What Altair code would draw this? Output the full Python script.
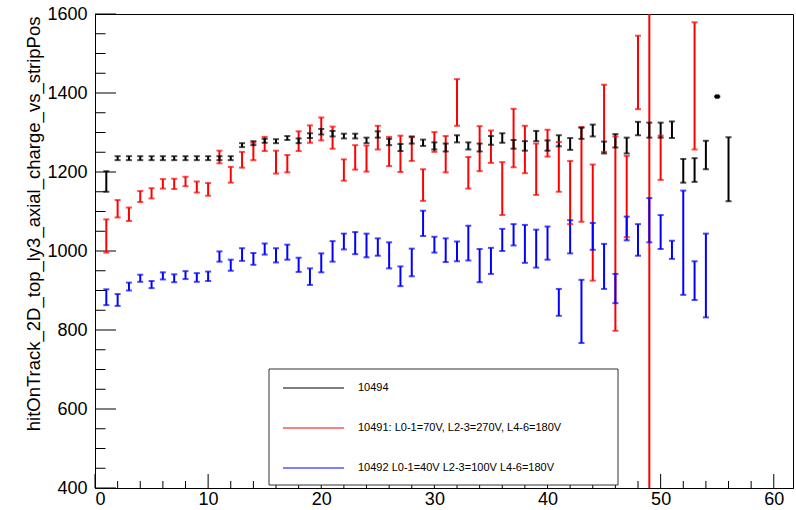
import altair as alt
import pandas as pd

# ---- run 10494 (black) ----
black_x = list(range(1, 57))
black_y = [1176, 1235, 1235, 1235, 1235, 1235, 1235, 1235, 1235, 1235,
           1235, 1235, 1268, 1273, 1279, 1278, 1286, 1279, 1292, 1302,
           1297, 1291, 1291, 1280, 1295, 1276, 1262, 1281, 1274, 1266,
           1262, 1284, 1266, 1262, 1280, 1286, 1270, 1266, 1291, 1267,
           1279, 1271, 1298, 1305, 1262, 1279, 1267, 1310, 1306, 1306,
           1307, 1203, 1205, 1243, 1391, 1207]
black_err = [26, 5, 5, 5, 5, 5, 5, 5, 5, 5,
             5, 5, 5, 5, 5, 5, 5, 6, 6, 7,
             7, 6, 6, 7, 8, 8, 9, 9, 8, 9,
             10, 9, 9, 10, 11, 12, 11, 12, 13, 13,
             14, 15, 14, 15, 15, 17, 20, 17, 19, 19,
             21, 30, 30, 36, 0, 81]

# ---- run 10491 (red) ----
red_x = list(range(1, 51)) + [53]
red_y = [1038, 1107, 1093, 1138, 1146, 1170, 1170, 1176, 1162, 1156,
         1238, 1193, 1231, 1252, 1271, 1225, 1221, 1278, 1296, 1309,
         1287, 1205, 1237, 1234, 1287, 1252, 1246, 1258, 1167, 1276,
         1245, 1376, 1198, 1259, 1264, 1158, 1286, 1257, 1207, 1273,
         1213, 1148, 1194, 1072, 1336, 1044, 1138, 1452, 1000, 1236,
         1418]
red_err = [42, 22, 17, 14, 13, 12, 13, 12, 14, 16,
           16, 20, 20, 22, 18, 29, 22, 25, 22, 29,
           28, 27, 31, 33, 30, 37, 46, 30, 40, 25,
           46, 59, 40, 57, 41, 67, 74, 60, 65, 34,
           63, 80, 120, 147, 85, 246, 103, 93, 700, 56,
           161]

# ---- run 10492 (blue) ----
blue_x = list(range(1, 55))
blue_y = [883, 876, 910, 931, 915, 937, 931, 939, 933, 936,
          986, 964, 991, 980, 1005, 989, 997, 965, 935, 970,
          999, 1024, 1020, 1014, 1010, 989, 936, 971, 1070, 1016,
          1002, 999, 1020, 963, 975, 1028, 1041, 1018, 1006, 1020,
          870, 1036, 847, 1037, 961, 905, 1057, 1028, 1078, 1048,
          1003, 1021, 925, 938]
blue_err = [20, 15, 10, 9, 9, 9, 10, 10, 11, 12,
            13, 14, 16, 15, 14, 18, 19, 18, 21, 24,
            26, 20, 28, 30, 22, 33, 25, 35, 32, 20,
            30, 25, 44, 42, 33, 28, 27, 48, 48, 42,
            34, 42, 80, 34, 57, 37, 30, 40, 56, 43,
            23, 132, 49, 106]

run_names = ["10494",
             "10491: L0-1=70V, L2-3=270V, L4-6=180V",
             "10492 L0-1=40V L2-3=100V L4-6=180V"]
run_colors = ["#000000", "#ff0000", "#0000ff"]

# axis tick positions
y_major = [400, 600, 800, 1000, 1200, 1400, 1600]
y_minor = [v for v in range(400, 1601, 50) if v not in y_major]
x_major = [0, 10, 20, 30, 40, 50, 60]
x_minor = [v for v in range(0, 62, 2) if v not in x_major]

FONT = "Liberation Sans"
W, H = 698, 474

rows = []
for name, xs_, ys_, es_ in [(run_names[1], red_x, red_y, red_err),
                            (run_names[0], black_x, black_y, black_err),
                            (run_names[2], blue_x, blue_y, blue_err)]:
    for x, y, e in zip(xs_, ys_, es_):
        rows.append({"run": name, "strip": x, "val": y, "err": e,
                     "lo": y - e, "hi": y + e})
df = pd.DataFrame(rows)

xscale = alt.Scale(domain=[0, 61.7], nice=False, zero=False)
yscale = alt.Scale(domain=[400, 1600], nice=False, zero=False)
xaxis = alt.Axis(values=x_major, title=None, format="d", labelPadding=2)
yaxis = alt.Axis(values=y_major, format="d", labelPadding=8,
                 title="hitOnTrack_2D_top_ly3_axial_charge_vs_stripPos",
                 titleAngle=270, titleAlign="right", titleBaseline="middle",
                 titleX=-62, titleY=2)
color = alt.Color("run:N", scale=alt.Scale(domain=run_names, range=run_colors), legend=None)


def X(field):
    return alt.X(field, scale=xscale, axis=xaxis)


def Y(field):
    return alt.Y(field, scale=yscale, axis=yaxis)


# inward tick marks along the left and bottom axes
yt_major = alt.Chart(pd.DataFrame({"v": y_major})).mark_rule(color="black", strokeWidth=1).encode(
    y=Y("v:Q"), x=alt.value(0), x2=alt.value(21))
yt_minor = alt.Chart(pd.DataFrame({"v": y_minor})).mark_rule(color="black", strokeWidth=1).encode(
    y=Y("v:Q"), x=alt.value(0), x2=alt.value(10.5))
xt_major = alt.Chart(pd.DataFrame({"v": x_major})).mark_rule(color="black", strokeWidth=1).encode(
    x=X("v:Q"), y=alt.value(H), y2=alt.value(H - 14))
xt_minor = alt.Chart(pd.DataFrame({"v": x_minor})).mark_rule(color="black", strokeWidth=1).encode(
    x=X("v:Q"), y=alt.value(H), y2=alt.value(H - 7))

bars = alt.Chart(df).mark_rule(strokeWidth=2, clip=True).encode(
    x=X("strip:Q"), y=Y("lo:Q"), y2="hi:Q", color=color)

caps = alt.Chart(df).transform_fold(["lo", "hi"], as_=["end", "yv"]).mark_tick(
    orient="horizontal", size=6, thickness=2, clip=True
).encode(x=X("strip:Q"), y=Y("yv:Q"), color=color)

dots = alt.Chart(df).transform_filter("datum.err == 0").mark_square(
    size=18, opacity=1, filled=True
).encode(x=X("strip:Q"), y=Y("val:Q"), color=color)

# legend box
one = alt.Data(values=[{"k": 0}])
box = alt.Chart(one).mark_rect(fill="white", stroke="#333333", strokeWidth=1).encode(
    x=alt.value(174), x2=alt.value(523), y=alt.value(355), y2=alt.value(471))

legend_layers = []
for i, (name, col) in enumerate(zip(run_names, run_colors)):
    ly = 374 + 40 * i
    legend_layers.append(
        alt.Chart(one).mark_rule(color=col, strokeWidth=1.2).encode(
            x=alt.value(188), x2=alt.value(249), y=alt.value(ly)))
    legend_layers.append(
        alt.Chart(one).mark_text(align="left", baseline="middle", font=FONT,
                                 fontSize=11, color="black", text=name).encode(
            x=alt.value(263), y=alt.value(ly)))

chart = alt.layer(
    yt_major, yt_minor, xt_major, xt_minor, bars, caps, dots, box, *legend_layers
).properties(
    width=W, height=H,
    autosize=alt.AutoSizeParams(type="none"),
    padding={"left": 95, "top": 14, "right": 3, "bottom": 22},
    background="white",
).configure_view(
    stroke="black", strokeWidth=1
).configure_axis(
    grid=False, ticks=False, domain=True, domainColor="black", domainWidth=1,
    labelFont=FONT, labelFontSize=18, labelColor="black",
    titleFont=FONT, titleFontSize=18.5, titleFontWeight="normal", titleColor="black",
)

chart.save("out.html", embed_options={"renderer": "svg", "actions": False})
